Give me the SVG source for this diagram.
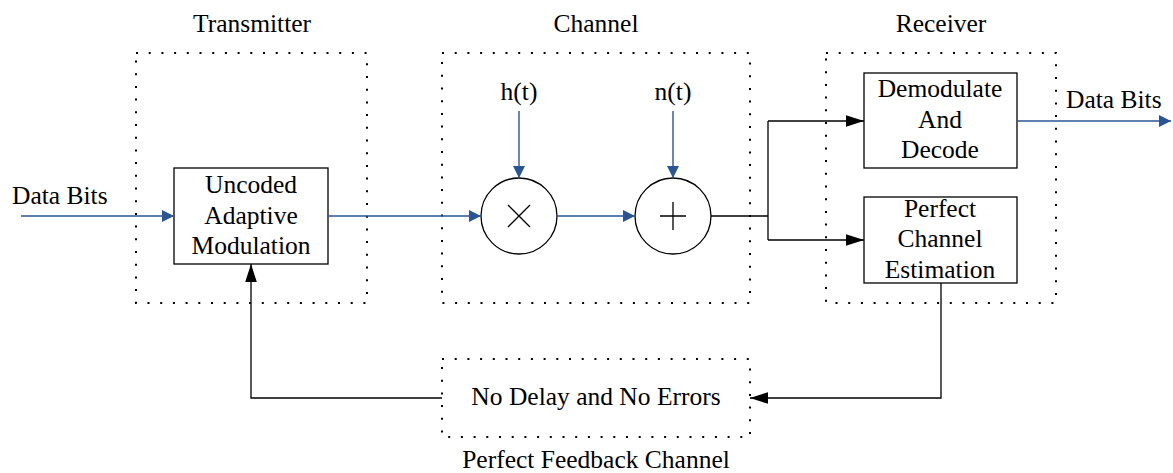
<svg xmlns="http://www.w3.org/2000/svg" width="1173" height="473" viewBox="0 0 1173 473">
<style>
text{font-family:"Liberation Serif","Times New Roman",serif;font-size:25.5px;fill:#000}
.c{text-anchor:middle}
.dot{fill:none;stroke:#000;stroke-width:2;stroke-dasharray:2 10.7}
.box{fill:#fff;stroke:#000;stroke-width:1.3}
.blue{fill:none;stroke:#2B5592;stroke-width:1.4}
.blk{fill:none;stroke:#000;stroke-width:1.3}
</style>
<defs>
<marker id="ab" markerUnits="userSpaceOnUse" markerWidth="12" markerHeight="12" viewBox="0 0 10 10" refX="10" refY="5" orient="auto">
<path d="M0,0 L10,5 L0,10 Z" fill="#2B5592"/>
</marker>
<marker id="ak" markerUnits="userSpaceOnUse" markerWidth="18" markerHeight="12" viewBox="0 0 17 11" refX="17" refY="5.5" orient="auto">
<path d="M0,0 L17,5.5 L0,11 Z" fill="#000"/>
</marker>
</defs>

<g id="transmitter">
<rect class="dot" x="136" y="53" width="231" height="250"/>
<text class="c" x="252" y="32">Transmitter</text>
</g>
<g id="channel">
<rect class="dot" x="442" y="53" width="308" height="250"/>
<text class="c" x="596" y="32">Channel</text>
</g>
<g id="receiver">
<rect class="dot" x="826" y="53" width="230" height="250"/>
<text class="c" x="941" y="32">Receiver</text>
</g>
<g id="feedback">
<rect class="dot" x="442" y="359" width="308" height="78"/>
<text class="c" x="596" y="405">No Delay and No Errors</text>
<text class="c" x="596" y="468">Perfect Feedback Channel</text>
</g>

<g id="modulator">
<rect class="box" x="174" y="168" width="154" height="96"/>
<text class="c" x="251" y="193">Uncoded</text>
<text class="c" x="251" y="224">Adaptive</text>
<text class="c" x="251" y="254">Modulation</text>
</g>
<g id="multiplier">
<circle class="box" cx="519" cy="216" r="38"/>
<path class="blk" d="M508,205 L530,227 M530,205 L508,227" stroke-width="1.8"/>
</g>
<g id="adder">
<circle class="box" cx="673" cy="216" r="38"/>
<path class="blk" d="M660,216 L686,216 M673,202 L673,230" stroke-width="1.8"/>
</g>
<g id="demod">
<rect class="box" x="864" y="73" width="153" height="95"/>
<text class="c" x="940" y="97">Demodulate</text>
<text class="c" x="940" y="128">And</text>
<text class="c" x="940" y="158">Decode</text>
</g>
<g id="estimator">
<rect class="box" x="864" y="197" width="153" height="86"/>
<text class="c" x="940" y="217">Perfect</text>
<text class="c" x="940" y="247">Channel</text>
<text class="c" x="940" y="278">Estimation</text>
</g>
<g id="labels">
<text x="12" y="204">Data Bits</text>
<text x="1066" y="108">Data Bits</text>
<text class="c" x="519" y="100">h(t)</text>
<text class="c" x="673" y="100">n(t)</text>
</g>

<g id="connectors">
<path class="blue" d="M21,216 L174,216" marker-end="url(#ab)"/>
<path class="blue" d="M328,216 L481,216" marker-end="url(#ab)"/>
<path class="blue" d="M557,216 L635,216" marker-end="url(#ab)"/>
<path class="blue" d="M519,111 L519,178" marker-end="url(#ab)"/>
<path class="blue" d="M673,111 L673,178" marker-end="url(#ab)"/>
<path class="blue" d="M1017,121 L1171,121" marker-end="url(#ab)"/>
<path class="blk" d="M711,216 L768,216"/>
<path class="blk" d="M768,121 L768,240"/>
<path class="blk" d="M768,121 L864,121" marker-end="url(#ak)"/>
<path class="blk" d="M768,240 L864,240" marker-end="url(#ak)"/>
<path class="blk" d="M941,283 L941,398 L750,398" marker-end="url(#ak)"/>
<path class="blk" d="M442,398 L251,398 L251,264" marker-end="url(#ak)"/>
</g>
</svg>
